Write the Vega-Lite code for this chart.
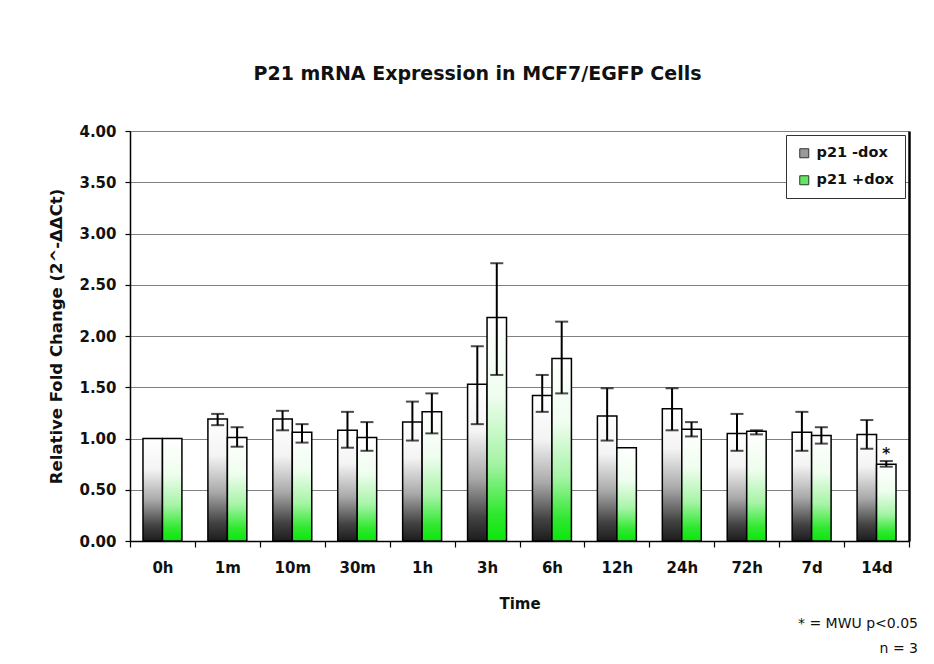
{
  "$schema": "https://vega.github.io/schema/vega-lite/v6.json",
  "background": "white",
  "padding": {"left": 48, "top": 65, "right": 10, "bottom": 4},
  "title": {
    "text": "P21 mRNA Expression in MCF7/EGFP Cells",
    "fontSize": 19,
    "fontWeight": "bold",
    "color": "#111",
    "anchor": "middle",
    "frame": "bounds",
    "offset": 40,
    "dx": -6
  },
  "config": {
    "font": "DejaVu Sans",
    "view": {"stroke": null},
    "axis": {
      "labelFontWeight": "bold",
      "labelFontSize": 15,
      "labelColor": "#111",
      "titleFontWeight": "bold",
      "titleColor": "#111",
      "domainColor": "#000",
      "domainWidth": 1.5,
      "tickColor": "#000",
      "tickWidth": 1.2
    },
    "legend": {
      "orient": "top-right",
      "offset": 4,
      "padding": 11,
      "fillColor": "white",
      "strokeColor": "#333",
      "labelFontSize": 14.5,
      "labelFontWeight": "bold",
      "labelColor": "#111",
      "symbolType": "square",
      "symbolSize": 81,
      "symbolStrokeColor": "#333",
      "symbolStrokeWidth": 1,
      "rowPadding": 12,
      "labelOffset": 5
    }
  },
  "vconcat": [
    {
      "width": 779,
      "height": 410,
      "title": {
        "text": ["* = MWU p<0.05", "n = 3"],
        "orient": "bottom",
        "anchor": "end",
        "frame": "group",
        "fontSize": 14,
        "fontWeight": "normal",
        "color": "#111",
        "lineHeight": 25,
        "offset": 6,
        "dx": 9
      },
      "data": {
        "values": [
          {"time": "0h", "series": "p21 -dox", "value": 1.00, "lo": null, "hi": null, "sig": null},
          {"time": "0h", "series": "p21 +dox", "value": 1.00, "lo": null, "hi": null, "sig": null},
          {"time": "1m", "series": "p21 -dox", "value": 1.19, "lo": 1.13, "hi": 1.24, "sig": null},
          {"time": "1m", "series": "p21 +dox", "value": 1.01, "lo": 0.92, "hi": 1.11, "sig": null},
          {"time": "10m", "series": "p21 -dox", "value": 1.19, "lo": 1.08, "hi": 1.27, "sig": null},
          {"time": "10m", "series": "p21 +dox", "value": 1.06, "lo": 0.96, "hi": 1.14, "sig": null},
          {"time": "30m", "series": "p21 -dox", "value": 1.08, "lo": 0.91, "hi": 1.26, "sig": null},
          {"time": "30m", "series": "p21 +dox", "value": 1.01, "lo": 0.88, "hi": 1.16, "sig": null},
          {"time": "1h", "series": "p21 -dox", "value": 1.16, "lo": 0.98, "hi": 1.36, "sig": null},
          {"time": "1h", "series": "p21 +dox", "value": 1.26, "lo": 1.05, "hi": 1.44, "sig": null},
          {"time": "3h", "series": "p21 -dox", "value": 1.53, "lo": 1.14, "hi": 1.90, "sig": null},
          {"time": "3h", "series": "p21 +dox", "value": 2.18, "lo": 1.62, "hi": 2.71, "sig": null},
          {"time": "6h", "series": "p21 -dox", "value": 1.42, "lo": 1.26, "hi": 1.62, "sig": null},
          {"time": "6h", "series": "p21 +dox", "value": 1.78, "lo": 1.44, "hi": 2.14, "sig": null},
          {"time": "12h", "series": "p21 -dox", "value": 1.22, "lo": 0.98, "hi": 1.49, "sig": null},
          {"time": "12h", "series": "p21 +dox", "value": 0.91, "lo": null, "hi": null, "sig": null},
          {"time": "24h", "series": "p21 -dox", "value": 1.29, "lo": 1.08, "hi": 1.49, "sig": null},
          {"time": "24h", "series": "p21 +dox", "value": 1.09, "lo": 1.02, "hi": 1.16, "sig": null},
          {"time": "72h", "series": "p21 -dox", "value": 1.05, "lo": 0.88, "hi": 1.24, "sig": null},
          {"time": "72h", "series": "p21 +dox", "value": 1.07, "lo": 1.04, "hi": 1.08, "sig": null},
          {"time": "7d", "series": "p21 -dox", "value": 1.06, "lo": 0.88, "hi": 1.26, "sig": null},
          {"time": "7d", "series": "p21 +dox", "value": 1.03, "lo": 0.95, "hi": 1.11, "sig": null},
          {"time": "14d", "series": "p21 -dox", "value": 1.04, "lo": 0.90, "hi": 1.18, "sig": null},
          {"time": "14d", "series": "p21 +dox", "value": 0.75, "lo": 0.725, "hi": 0.78, "sig": "*"}
        ]
      },
      "encoding": {
        "x": {
          "field": "time",
          "type": "nominal",
          "sort": ["0h", "1m", "10m", "30m", "1h", "3h", "6h", "12h", "24h", "72h", "7d", "14d"],
          "scale": {"paddingInner": 0, "paddingOuter": 0},
          "axis": {
            "title": "Time",
            "titleFontSize": 15,
            "titlePadding": 21,
            "labelAngle": 0,
            "ticks": true,
            "tickBand": "extent",
            "labelPadding": 13,
            "tickSize": 6,
            "grid": false
          }
        },
        "xOffset": {
          "field": "series",
          "type": "nominal",
          "sort": ["p21 -dox", "p21 +dox"],
          "scale": {"paddingInner": 0, "paddingOuter": 0.667}
        }
      },
      "layer": [
        {
          "mark": {"type": "bar", "stroke": "#000", "strokeWidth": 1.5},
          "encoding": {
            "y": {
              "field": "value",
              "type": "quantitative",
              "scale": {"domain": [0, 4], "nice": false, "zero": true},
              "axis": {
                "title": "Relative Fold Change (2^-ΔΔCt)",
                "titleFontSize": 16.5,
                "titlePadding": 14,
                "values": [0, 0.5, 1, 1.5, 2, 2.5, 3, 3.5, 4],
                "format": ".2f",
                "grid": true,
                "gridColor": "#808080",
                "gridWidth": 1,
                "tickSize": 5,
                "labelPadding": 9
              }
            },
            "fill": {
              "condition": {
                "test": "datum.series === 'p21 -dox'",
                "value": {"gradient": "linear", "x1": 0, "y1": 0, "x2": 0, "y2": 1,
                  "stops": [
                    {"offset": 0, "color": "#ffffff"},
                    {"offset": 0.3, "color": "#f4f4f4"},
                    {"offset": 0.6, "color": "#a9a9a9"},
                    {"offset": 0.85, "color": "#424242"},
                    {"offset": 1, "color": "#1c1c1c"}
                  ]}
              },
              "value": {"gradient": "linear", "x1": 0, "y1": 0, "x2": 0, "y2": 1,
                "stops": [
                  {"offset": 0, "color": "#ffffff"},
                  {"offset": 0.35, "color": "#effdef"},
                  {"offset": 0.65, "color": "#a6f4a6"},
                  {"offset": 0.88, "color": "#2ee82e"},
                  {"offset": 1, "color": "#0ce60c"}
                ]}
            }
          }
        },
        {
          "mark": {"type": "bar", "strokeWidth": 0},
          "encoding": {
            "y": {"datum": 0, "type": "quantitative", "axis": null},
            "fill": {
              "field": "series",
              "type": "nominal",
              "sort": ["p21 -dox", "p21 +dox"],
              "scale": {"domain": ["p21 -dox", "p21 +dox"], "range": ["#9a9a9a", "#5fe85f"]},
              "legend": {
                "title": null,
                "encode": {
                  "symbols": {
                    "update": {
                      "fill": {"signal": "datum.value === 'p21 -dox' ? {gradient: 'linear', x1: 0, y1: 0, x2: 0, y2: 1, stops: [{offset: 0, color: '#f0f0f0'}, {offset: 1, color: '#505050'}]} : {gradient: 'linear', x1: 0, y1: 0, x2: 0, y2: 1, stops: [{offset: 0, color: '#effdef'}, {offset: 1, color: '#1ddd1d'}]}"},
                      "stroke": {"value": "#333333"},
                      "strokeWidth": {"value": 1}
                    }
                  }
                }
              }
            }
          }
        },
        {
          "transform": [{"filter": "datum.lo != null"}],
          "mark": {"type": "rule", "color": "#000", "strokeWidth": 2},
          "encoding": {
            "y": {"field": "lo", "type": "quantitative", "axis": null},
            "y2": {"field": "hi"}
          }
        },
        {
          "transform": [{"filter": "datum.lo != null"}],
          "mark": {"type": "tick", "color": "#000", "thickness": 2, "size": 13, "orient": "horizontal"},
          "encoding": {
            "y": {"field": "lo", "type": "quantitative", "axis": null}
          }
        },
        {
          "transform": [{"filter": "datum.hi != null"}],
          "mark": {"type": "tick", "color": "#000", "thickness": 2, "size": 13, "orient": "horizontal"},
          "encoding": {
            "y": {
              "field": "hi",
              "type": "quantitative",
              "axis": {
                "orient": "right",
                "title": null,
                "labels": false,
                "ticks": false,
                "grid": false,
                "domainColor": "#000",
                "domainWidth": 2.5
              }
            }
          }
        },
        {
          "transform": [{"filter": "datum.sig != null"}],
          "mark": {"type": "text", "fontSize": 15, "fontWeight": "bold", "color": "#111", "baseline": "middle", "dy": -7},
          "encoding": {
            "y": {"field": "hi", "type": "quantitative", "axis": null},
            "text": {"field": "sig"}
          }
        }
      ],
      "resolve": {"scale": {"y": "shared"}, "axis": {"y": "independent"}}
    }
  ]
}
